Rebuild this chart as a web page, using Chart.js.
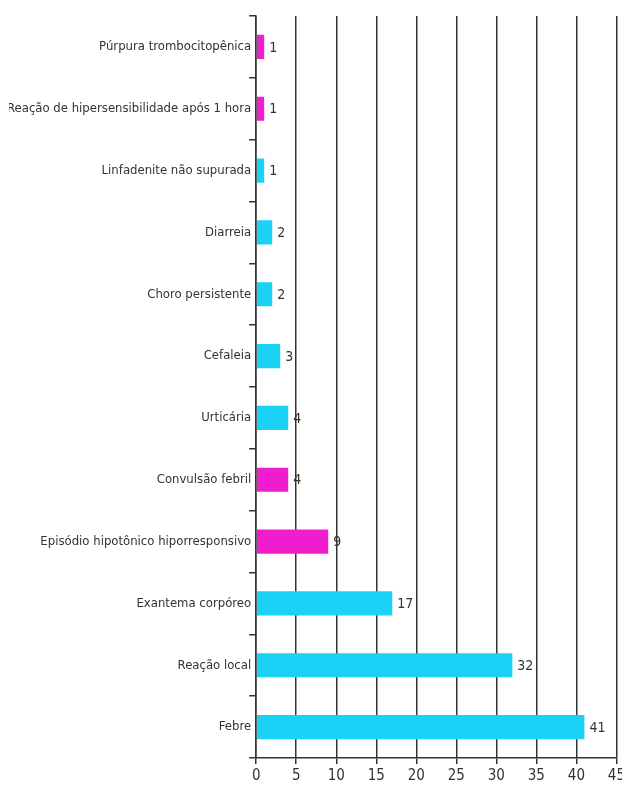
<!DOCTYPE html>
<html>
<head>
<meta charset="utf-8">
<script src="https://cdn.jsdelivr.net/npm/chart.js@4"></script>
<style>
  html, body { margin: 0; padding: 0; background: #fff; overflow: hidden; }
  #wrap { width: 628px; height: 785px; }
</style>
</head>
<body>
<div id="wrap"><canvas id="c" width="628" height="785"></canvas></div>
<script>
const categories = [
  "Púrpura trombocitopênica",
  "Reação de hipersensibilidade após 1 hora",
  "Linfadenite não supurada",
  "Diarreia",
  "Choro persistente",
  "Cefaleia",
  "Urticária",
  "Convulsão febril",
  "Episódio hipotônico hiporresponsivo",
  "Exantema corpóreo",
  "Reação local",
  "Febre"
];
const values = [1, 1, 1, 2, 2, 3, 4, 4, 9, 17, 32, 41];
const highlighted = [true, true, false, false, false, false, false, true, true, false, false, false];
const xTicks = [0, 5, 10, 15, 20, 25, 30, 35, 40, 45];

const CYAN = "#19d2f5";
const MAGENTA = "#ee1ecf";
const FONT = "'DejaVu Sans Condensed', 'Liberation Sans', Arial, sans-serif";

const valueLabels = {
  id: "valueLabels",
  afterDatasetsDraw(chart) {
    const ctx = chart.ctx;
    const meta = chart.getDatasetMeta(0);
    ctx.save();
    ctx.font = "14px " + FONT;
    ctx.fillStyle = "#333";
    ctx.textAlign = "left";
    ctx.textBaseline = "middle";
    meta.data.forEach((bar, i) => {
      ctx.fillText(String(values[i]), bar.x + 5, bar.y + 1);
    });
    ctx.restore();
  }
};

new Chart(document.getElementById("c"), {
  type: "bar",
  data: {
    labels: categories,
    datasets: [{
      data: values,
      backgroundColor: highlighted.map(h => h ? MAGENTA : CYAN),
      borderWidth: 0,
      barPercentage: 0.39,
      categoryPercentage: 1.0
    }]
  },
  options: {
    indexAxis: "y",
    responsive: false,
    animation: false,
    layout: { padding: { top: 16, left: 9, right: 0, bottom: -3 } },
    plugins: { legend: { display: false }, tooltip: { enabled: false } },
    scales: {
      x: {
        min: 0, max: 45,
        afterBuildTicks(axis) { axis.ticks = xTicks.map(v => ({ value: v })); },
        grid: { color: "#333", lineWidth: 1.5, tickLength: 6, drawOnChartArea: true },
        border: { display: true, color: "#333", width: 1.5 },
        ticks: { font: { family: FONT, size: 15 }, color: "#333", padding: 3, maxRotation: 0 }
      },
      y: {
        grid: { display: true, drawOnChartArea: false, color: "#333", lineWidth: 1.5, tickLength: 7, offset: true },
        border: { display: true, color: "#333", width: 1.5 },
        ticks: { font: { family: FONT, size: 13 }, color: "#333", padding: -2 }
      }
    }
  },
  plugins: [valueLabels]
});
</script>
</body>
</html>
